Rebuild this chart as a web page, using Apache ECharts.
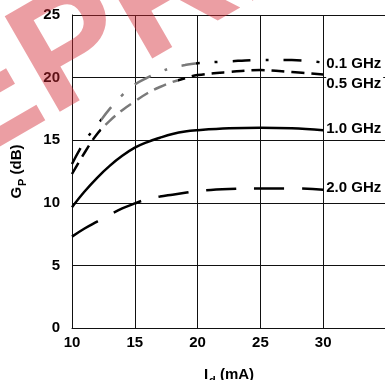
<!DOCTYPE html>
<html>
<head>
<meta charset="utf-8">
<script src="https://cdn.jsdelivr.net/npm/echarts@6/dist/echarts.min.js"></script>
<style>
html,body{margin:0;padding:0;background:#fff;}
#chart{width:385px;height:380px;}
</style>
</head>
<body>
<div id="chart"></div>
<script>
const currents = [10, 11, 12, 13, 14, 15, 16, 17, 18, 19, 20, 22.5, 25, 27.5, 30];
const gain01 = [13.1, 14.9, 16.2, 17.5, 18.6, 19.45, 20.0, 20.45, 20.8, 21.0, 21.15, 21.3, 21.4, 21.4, 21.2];
const gain05 = [12.3, 14.0, 15.5, 16.55, 17.4, 18.1, 18.75, 19.25, 19.65, 19.95, 20.2, 20.45, 20.6, 20.45, 20.25];
const gain10 = [9.65, 10.9, 12.0, 12.95, 13.75, 14.4, 14.85, 15.2, 15.5, 15.7, 15.8, 15.95, 16.0, 15.95, 15.8];
const gain20 = [7.3, 7.95, 8.5, 9.05, 9.55, 9.95, 10.3, 10.5, 10.65, 10.8, 10.95, 11.1, 11.15, 11.15, 11.05];
const seriesNames = ['0.1 GHz', '0.5 GHz', '1.0 GHz', '2.0 GHz'];
const xTicks = [10, 15, 20, 25, 30, 35];
const yTicks = [0, 5, 10, 15, 20, 25];
const watermarkText = 'DEPRECATED';

const FONT = '"Liberation Sans", Arial, sans-serif';
const pairs = arr => currents.map((x, i) => [x, arr[i]]);

function lbl(text, dy) {
  return {
    show: true, formatter: text, distance: 3, offset: [0, dy],
    color: '#000', fontWeight: 'bold', fontSize: 15, fontFamily: FONT,
    backgroundColor: '#fff', padding: [1, 2, 1, 0]
  };
}

const chart = echarts.init(document.getElementById('chart'), null, {renderer: 'canvas'});
chart.setOption({
  animation: false,
  backgroundColor: '#fff',
  grid: {left: 72, top: 15, width: 314, height: 313, containLabel: false, outerBoundsMode: 'none'},
  xAxis: {
    type: 'value', min: xTicks[0], max: xTicks[xTicks.length - 1], interval: 5,
    axisLine: {show: true, lineStyle: {color: '#111', width: 1}},
    axisTick: {show: false},
    splitLine: {show: true, lineStyle: {color: '#111', width: 1}},
    axisLabel: {
      margin: 7, color: '#000', fontWeight: 'bold', fontSize: 15, fontFamily: FONT,
      showMaxLabel: false,
      formatter: v => (xTicks.indexOf(v) >= 0 && v < 35 ? String(v) : '')
    },
    name: '{m|I}{s|d}{m| (mA)}',
    nameLocation: 'middle', nameGap: 39,
    nameTextStyle: {
      fontFamily: FONT, fontWeight: 'bold', fontSize: 15, color: '#000',
      rich: {
        m: {fontFamily: FONT, fontWeight: 'bold', fontSize: 15, color: '#000', verticalAlign: 'top', lineHeight: 17},
        s: {fontFamily: FONT, fontWeight: 'bold', fontSize: 11, color: '#000', verticalAlign: 'top', lineHeight: 11, padding: [8, 0, 0, 1]}
      }
    }
  },
  yAxis: {
    type: 'value', min: yTicks[0], max: yTicks[yTicks.length - 1], interval: 5,
    axisLine: {show: true, lineStyle: {color: '#111', width: 1}},
    axisTick: {show: false},
    splitLine: {show: true, lineStyle: {color: '#111', width: 1}},
    axisLabel: {margin: 12, color: '#000', fontWeight: 'bold', fontSize: 15, fontFamily: FONT},
    name: '{m|G}{s|P}{m| (dB)}',
    nameLocation: 'middle', nameGap: 46,
    nameTextStyle: {
      fontFamily: FONT, fontWeight: 'bold', fontSize: 15, color: '#000',
      rich: {
        m: {fontFamily: FONT, fontWeight: 'bold', fontSize: 15, color: '#000', verticalAlign: 'top', lineHeight: 17},
        s: {fontFamily: FONT, fontWeight: 'bold', fontSize: 11, color: '#000', verticalAlign: 'top', lineHeight: 11, padding: [8, 0, 0, 1]}
      }
    }
  },
  visualMap: [
    {show: false, type: 'piecewise', seriesIndex: 0, dimension: 0,
     pieces: [{lt: 12.3, color: '#000'}, {gte: 12.3, lt: 19.9, color: '#7a7a7a'}, {gte: 19.9, color: '#000'}]},
    {show: false, type: 'piecewise', seriesIndex: 1, dimension: 0,
     pieces: [{lt: 12.3, color: '#000'}, {gte: 12.3, lt: 18.4, color: '#7a7a7a'}, {gte: 18.4, color: '#000'}]}
  ],
  series: [
    {name: seriesNames[0], type: 'line', data: pairs(gain01), smooth: 0.4, symbol: 'none',
     lineStyle: {width: 2.5, type: [18, 15, 3, 15]}, endLabel: lbl(seriesNames[0], 1)},
    {name: seriesNames[1], type: 'line', data: pairs(gain05), smooth: 0.4, symbol: 'none',
     lineStyle: {width: 2.5, type: [13, 7]}, endLabel: lbl(seriesNames[1], 9)},
    {name: seriesNames[2], type: 'line', data: pairs(gain10), smooth: 0.4, symbol: 'none',
     lineStyle: {color: '#000', width: 2.5, type: 'solid'}, endLabel: lbl(seriesNames[2], -1)},
    {name: seriesNames[3], type: 'line', data: pairs(gain20), smooth: 0.4, symbol: 'none',
     lineStyle: {color: '#000', width: 2.5, type: [30, 18]}, endLabel: lbl(seriesNames[3], -2)}
  ],
  graphic: [
    {type: 'text', x: -164, y: 190, rotation: 30 * Math.PI / 180, z: 100, silent: true,
     style: {text: watermarkText, font: 'bold 160px "Liberation Sans", Arial, sans-serif',
             fill: 'rgba(210,40,50,0.45)', align: 'left', textAlign: 'left',
             verticalAlign: 'middle', textVerticalAlign: 'middle'}}
  ]
});
</script>
</body>
</html>
